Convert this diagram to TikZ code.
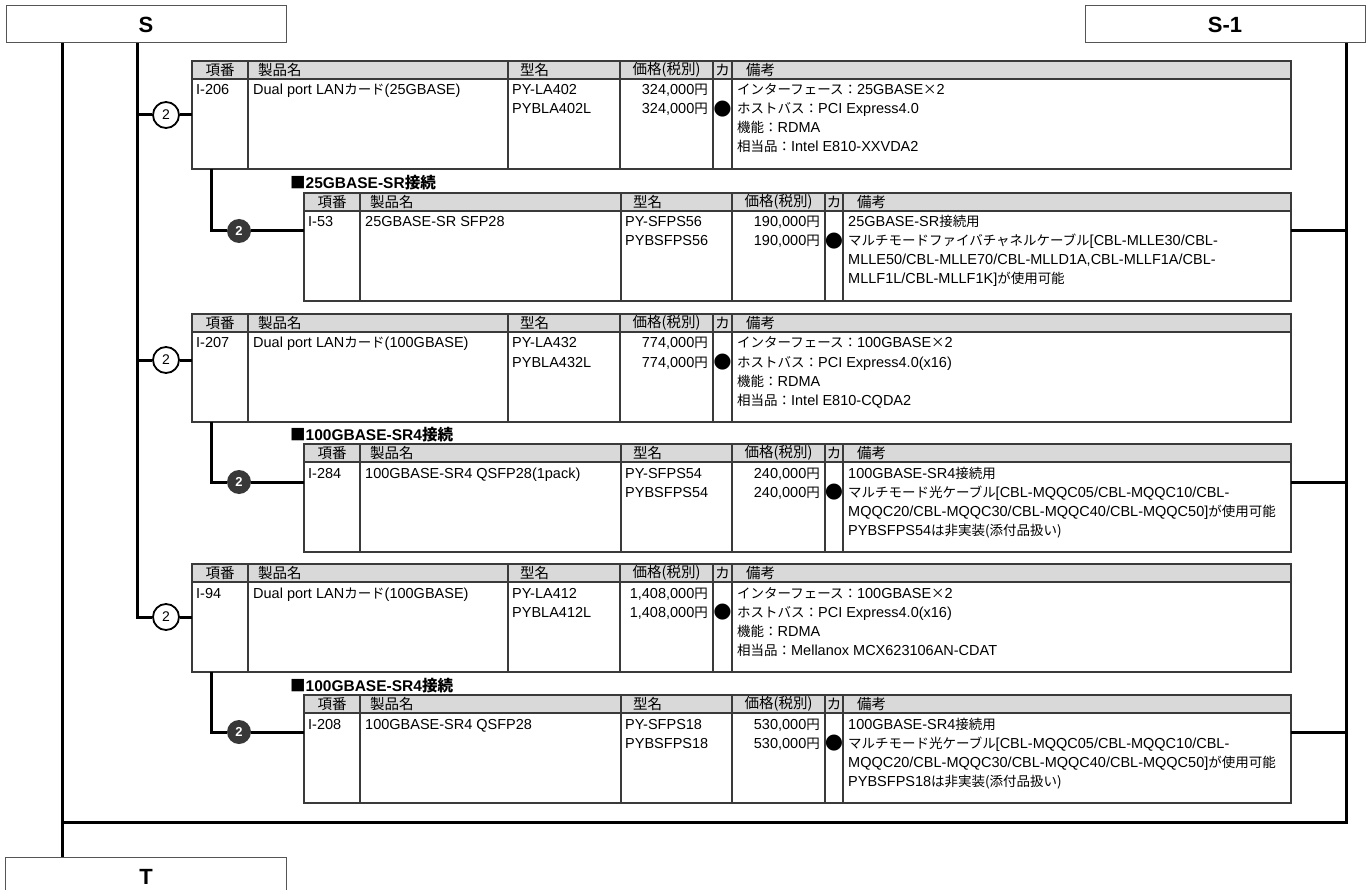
\documentclass[tikz,border=0pt]{standalone}
\usepackage{fontspec}
\setmainfont{Liberation Sans}
\newfontfamily\jpfont[Scale=0.93]{Noto Sans CJK JP}
\newfontfamily\jphead{Noto Sans CJK JP}
\newfontfamily\symfont{DejaVu Sans}
\newcommand\JP[1]{{\jpfont #1}}
\newcommand\JPB[1]{{\jphead\bfseries #1}}
\definecolor{hdrgray}{HTML}{D9D9D9}
\definecolor{rulec}{HTML}{3A3A3A}
\definecolor{boxc}{HTML}{555555}
\definecolor{darkc}{HTML}{383838}

\tikzset{
  conn/.style={line width=3pt, black},
  tbl/.style={draw=rulec, line width=1.1pt, inner sep=0pt, outer sep=0pt, anchor=north west, minimum height=108pt},
  colline/.style={draw=rulec, line width=1.1pt},
  htext/.style={inner sep=0pt, font={\jphead\fontsize{14.5}{16}\selectfont}},
  btext/.style={inner sep=0pt, anchor=base west, font={\fontsize{14.5}{17}\selectfont}},
  ptext/.style={inner sep=0pt, anchor=base east, font={\fontsize{14.5}{17}\selectfont}},
  lbox/.style={draw=boxc, line width=1pt, minimum height=37pt, anchor=north west, inner sep=0pt, outer sep=0pt, font={\bfseries\fontsize{22}{24}\selectfont}},
  wcirc/.style={circle, draw=black, line width=1.8pt, fill=white, minimum size=26pt, inner sep=0pt, font={\fontsize{14}{15}\selectfont}},
  dcirc/.style={circle, fill=darkc, minimum size=24pt, inner sep=0pt, text=white, font={\bfseries\fontsize{13}{14}\selectfont}},
  ttl/.style={inner sep=0pt, anchor=base west, font={\bfseries\fontsize{15.5}{17}\selectfont}},
  dotc/.style={inner sep=0pt, font={\symfont\fontsize{21}{22}\selectfont}},
}

\newcommand\setcols[7]{\def\xa{#1}\def\xb{#2}\def\xc{#3}\def\xd{#4}\def\xe{#5}\def\xf{#6}\def\xg{#7}}
\newcommand\tframe[2]{%
  \fill[hdrgray] (\xa,#2) rectangle (\xg,{#2+18});
  \node[tbl, minimum width={(\xg-\xa)*1pt}] (#1) at (\xa,#2) {};
  \draw[colline] (\xa,{#2+18}) -- (\xg,{#2+18});
  \foreach \cx in {\xb,\xc,\xd,\xe,\xf} \draw[colline] (\cx,#2) -- (\cx,{#2+108});
  \node[htext] (#1-h1) at ({(\xa+\xb)/2},{#2+9}) {項番};
  \node[htext, anchor=west] (#1-h2) at ({\xb+10},{#2+9}) {製品名};
  \node[htext, anchor=west] (#1-h3) at ({\xc+12},{#2+9}) {型名};
  \node[htext] (#1-h4) at ({(\xd+\xe)/2},{#2+9}) {価格(税別)};
  \node[htext] (#1-h5) at ({(\xe+\xf)/2},{#2+9}) {カ};
  \node[htext, anchor=west] (#1-h6) at ({\xf+14},{#2+9}) {備考};
}
\newcommand\tbody[8]{%
  \node[btext] (#1-id) at ({\xa+4},{#2+34}) {#3};
  \node[btext] (#1-pn) at ({\xb+5},{#2+34}) {#4};
  \node[btext] (#1-m1) at ({\xc+4},{#2+34}) {#5};
  \node[btext] (#1-m2) at ({\xc+4},{#2+53}) {#6};
  \node[ptext] (#1-p1) at ({\xe-5},{#2+34}) {#7};
  \node[ptext] (#1-p2) at ({\xe-5},{#2+53}) {#8};
  \node[dotc] (#1-dot) at ({(\xe+\xf)/2},{#2+48}) {●};
}
\newcommand\trem[4]{%
  \node[btext] (#1-r#3) at ({\xf+5},{#2+34+19*(#3-1)}) {#4};
}

\begin{document}
\begin{tikzpicture}[x=1pt,y=-1pt]
\useasboundingbox (0,0) rectangle (1370,890);
\fill[white] (0,0) rectangle (1370,890);

% top / bottom boxes
\node[lbox, minimum width=280pt] (S) at (6,6) {S};
\node[lbox, minimum width=280pt] (S1) at (1085,6) {S-1};
\node[lbox, minimum width=281pt] (T) at (5,857) {};
\node[inner sep=0pt, font={\bfseries\fontsize{22}{24}\selectfont}] (Tlbl) at (146,877) {T};

% ---------- group 1 ----------
\setcols{192}{248}{508}{620}{713}{732}{1291}
\tframe{tA1}{61}
\tbody{tA1}{61}{I-206}{Dual port LAN\JP{カード}(25GBASE)}{PY-LA402}{PYBLA402L}{324,000\JP{円}}{324,000\JP{円}}
\trem{tA1}{61}{1}{\JP{インターフェース：}25GBASE\JP{×}2}
\trem{tA1}{61}{2}{\JP{ホストバス：}PCI Express4.0}
\trem{tA1}{61}{3}{\JP{機能：}RDMA}
\trem{tA1}{61}{4}{\JP{相当品：}Intel E810-XXVDA2}

\setcols{304}{360}{621}{732}{825}{843}{1291}
\node[ttl] (ttl1) at (290,189) {\JPB{■}25GBASE-SR\JPB{接続}};
\tframe{tB1}{193}
\tbody{tB1}{193}{I-53}{25GBASE-SR SFP28}{PY-SFPS56}{PYBSFPS56}{190,000\JP{円}}{190,000\JP{円}}
\trem{tB1}{193}{1}{25GBASE-SR\JP{接続用}}
\trem{tB1}{193}{2}{\JP{マルチモードファイバチャネルケーブル}[CBL-MLLE30/CBL-}
\trem{tB1}{193}{3}{MLLE50/CBL-MLLE70/CBL-MLLD1A,CBL-MLLF1A/CBL-}
\trem{tB1}{193}{4}{MLLF1L/CBL-MLLF1K]\JP{が使用可能}}

% ---------- group 2 ----------
\setcols{192}{248}{508}{620}{713}{732}{1291}
\tframe{tA2}{314}
\tbody{tA2}{314}{I-207}{Dual port LAN\JP{カード}(100GBASE)}{PY-LA432}{PYBLA432L}{774,000\JP{円}}{774,000\JP{円}}
\trem{tA2}{314}{1}{\JP{インターフェース：}100GBASE\JP{×}2}
\trem{tA2}{314}{2}{\JP{ホストバス：}PCI Express4.0(x16)}
\trem{tA2}{314}{3}{\JP{機能：}RDMA}
\trem{tA2}{314}{4}{\JP{相当品：}Intel E810-CQDA2}

\setcols{304}{360}{621}{732}{825}{843}{1291}
\node[ttl] (ttl2) at (290,440) {\JPB{■}100GBASE-SR4\JPB{接続}};
\tframe{tB2}{444}
\tbody{tB2}{444}{I-284}{100GBASE-SR4 QSFP28(1pack)}{PY-SFPS54}{PYBSFPS54}{240,000\JP{円}}{240,000\JP{円}}
\trem{tB2}{444}{1}{100GBASE-SR4\JP{接続用}}
\trem{tB2}{444}{2}{\JP{マルチモード光ケーブル}[CBL-MQQC05/CBL-MQQC10/CBL-}
\trem{tB2}{444}{3}{MQQC20/CBL-MQQC30/CBL-MQQC40/CBL-MQQC50]\JP{が使用可能}}
\trem{tB2}{444}{4}{PYBSFPS54\JP{は非実装(添付品扱い)}}

% ---------- group 3 ----------
\setcols{192}{248}{508}{620}{713}{732}{1291}
\tframe{tA3}{564}
\tbody{tA3}{564}{I-94}{Dual port LAN\JP{カード}(100GBASE)}{PY-LA412}{PYBLA412L}{1,408,000\JP{円}}{1,408,000\JP{円}}
\trem{tA3}{564}{1}{\JP{インターフェース：}100GBASE\JP{×}2}
\trem{tA3}{564}{2}{\JP{ホストバス：}PCI Express4.0(x16)}
\trem{tA3}{564}{3}{\JP{機能：}RDMA}
\trem{tA3}{564}{4}{\JP{相当品：}Mellanox MCX623106AN-CDAT}

\setcols{304}{360}{621}{732}{825}{843}{1291}
\node[ttl] (ttl3) at (290,691) {\JPB{■}100GBASE-SR4\JPB{接続}};
\tframe{tB3}{695}
\tbody{tB3}{695}{I-208}{100GBASE-SR4 QSFP28}{PY-SFPS18}{PYBSFPS18}{530,000\JP{円}}{530,000\JP{円}}
\trem{tB3}{695}{1}{100GBASE-SR4\JP{接続用}}
\trem{tB3}{695}{2}{\JP{マルチモード光ケーブル}[CBL-MQQC05/CBL-MQQC10/CBL-}
\trem{tB3}{695}{3}{MQQC20/CBL-MQQC30/CBL-MQQC40/CBL-MQQC50]\JP{が使用可能}}
\trem{tB3}{695}{4}{PYBSFPS18\JP{は非実装(添付品扱い)}}

% ---------- connectors ----------
\coordinate (bL) at (62,822);
\coordinate (bR) at (1346,822);
\coordinate (vM) at (137,617);
\coordinate (vI) at (211,0);

\node[wcirc] (w1) at (166,115) {2};
\node[wcirc] (w2) at (166,360) {2};
\node[wcirc] (w3) at (166,617) {2};
\node[dcirc] (d1) at (239,231) {2};
\node[dcirc] (d2) at (239,482) {2};
\node[dcirc] (d3) at (239,732) {2};

\draw[conn] (S.south -| bL) -- (T.north -| bL);
\draw[conn] (S1.south -| bR) -- (bR) -- (bL);
\draw[conn] (S.south -| vM) -- (vM) -- (w3);
\foreach \k in {1,2,3} {
  \draw[conn] (w\k -| vM) -- (w\k);
  \draw[conn] (w\k) -- (w\k -| tA\k.west);
  \draw[conn] (tA\k.south -| vI) -- (d\k -| vI) -- (d\k);
  \draw[conn] (d\k) -- (d\k -| tB\k.west);
  \draw[conn] (d\k -| tB\k.east) -- (d\k -| bR);
}
\end{tikzpicture}
\end{document}
